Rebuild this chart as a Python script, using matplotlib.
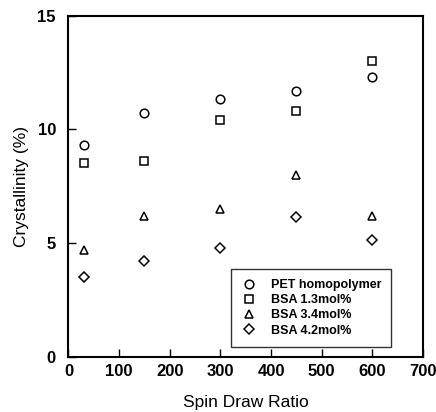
import matplotlib
matplotlib.use("Agg")
import matplotlib.pyplot as plt

plt.rcParams['font.family'] = ['Liberation Sans', 'DejaVu Sans']

draw_ratio = [30, 150, 300, 450, 600]
pet_homopolymer = [9.3, 10.7, 11.35, 11.7, 12.3]
bsa_13 = [8.5, 8.6, 10.4, 10.8, 13.0]
bsa_34 = [4.7, 6.2, 6.5, 8.0, 6.2]
bsa_42 = [3.5, 4.2, 4.8, 6.15, 5.15]

series = [
    ("PET homopolymer", pet_homopolymer, 'o', 6.2),
    ("BSA 1.3mol%", bsa_13, 's', 5.6),
    ("BSA 3.4mol%", bsa_34, '^', 6.4),
    ("BSA 4.2mol%", bsa_42, 'D', 5.4),
]

x_ticks = [0, 100, 200, 300, 400, 500, 600, 700]
y_ticks = [0, 5, 10, 15]

fig = plt.figure(figsize=(4.36, 4.12), dpi=100)
ax = fig.add_axes([0.157, 0.134, 0.813, 0.828])

for label, values, marker, ms in series:
    ax.plot(draw_ratio, values, linestyle='none', marker=marker, markersize=ms,
            markerfacecolor='white', markeredgecolor='black',
            markeredgewidth=1.1, label=label)

ax.set_xlim(0, 700)
ax.set_ylim(0, 15)
ax.set_xticks(x_ticks)
ax.set_yticks(y_ticks)
ax.tick_params(direction='in', length=6, width=1.0, top=False, right=False,
               labelsize=12)
ax.tick_params(axis='x', pad=5)
ax.tick_params(axis='y', pad=9)
for lbl in ax.get_xticklabels() + ax.get_yticklabels():
    lbl.set_fontweight('bold')
for sp in ax.spines.values():
    sp.set_linewidth(1.5)

ax.set_xlabel("Spin Draw Ratio", fontsize=12.5, labelpad=12)
ax.set_ylabel("Crystallinity (%)", fontsize=12.5, labelpad=6)

leg = ax.legend(loc='lower right', bbox_to_anchor=(0.91, 0.03),
                frameon=True, fancybox=False, edgecolor='black',
                prop={'weight': 'bold', 'size': 9}, handletextpad=1.1,
                labelspacing=0.25, borderpad=0.8, handlelength=1.3,
                borderaxespad=0)
leg.get_frame().set_linewidth(1.0)

fig.savefig("out.png", dpi=100)
